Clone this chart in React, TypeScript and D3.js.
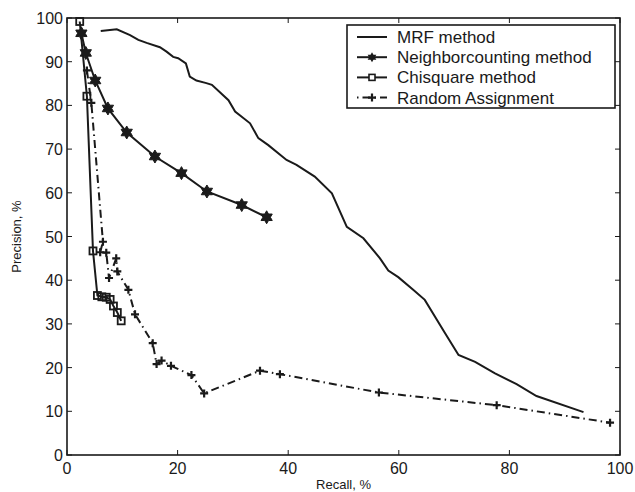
import React from "react";
import * as d3 from "d3";

const W = 635, H = 492;
const M = { left: 67, right: 15, top: 18, bottom: 37 };

// MRF method (line only)
const mrfX = [6.1, 9.0, 11.4, 12.9, 14.4, 16.8, 18.0, 19.2, 20.1, 21.5, 22.2, 23.4, 25.2, 26.2, 29.2, 30.4, 33.1, 34.6, 36.4, 39.7, 41.5, 44.8, 47.9, 50.6, 53.6, 56.6, 58.1, 59.9, 62.6, 64.7, 68.4, 70.8, 73.8, 77.4, 81.3, 84.9, 93.4];
const mrfY = [97.0, 97.4, 96.1, 95.0, 94.3, 93.3, 92.3, 91.1, 90.8, 89.6, 86.6, 85.7, 85.1, 84.7, 81.2, 78.6, 75.9, 72.5, 70.9, 67.5, 66.4, 63.7, 59.9, 52.2, 49.6, 45.0, 42.2, 40.7, 37.8, 35.5, 27.8, 22.9, 21.3, 18.7, 16.2, 13.5, 9.8];

// Neighborcounting method (hexagram markers)
const nbX = [2.6, 3.4, 5.1, 7.4, 10.8, 15.9, 20.7, 25.3, 31.6, 36.1];
const nbY = [96.5, 92.0, 85.7, 79.3, 73.8, 68.3, 64.5, 60.3, 57.2, 54.4];

// Chisquare method (square markers)
const chX = [2.3, 3.6, 4.7, 5.5, 6.3, 7.1, 7.8, 8.4, 9.1, 9.8];
const chY = [99.2, 82.1, 46.7, 36.5, 36.2, 36.1, 35.6, 34.1, 32.6, 30.7];

// Random Assignment (plus markers, dash-dot)
const rnX = [3.6, 4.4, 6.5, 6.0, 7.1, 7.6, 8.9, 9.1, 11.1, 12.3, 15.5, 16.2, 17.1, 18.8, 22.5, 24.8, 34.9, 38.5, 56.4, 77.7, 98.2];
const rnY = [88.0, 80.6, 48.8, 46.4, 46.3, 40.5, 45.0, 42.0, 37.8, 32.2, 25.6, 20.8, 21.6, 20.4, 18.3, 14.1, 19.3, 18.5, 14.3, 11.4, 7.4];

const xTicks = [0, 20, 40, 60, 80, 100];
const yTicks = [0, 10, 20, 30, 40, 50, 60, 70, 80, 90, 100];
const legendLabels = ["MRF method", "Neighborcounting method", "Chisquare method", "Random Assignment"];

const FONT = "'Liberation Sans', Arial, Helvetica, sans-serif";
const INK = "#1a1a1a";

function hexagram(r: number) {
  const pts: string[] = [];
  for (let i = 0; i < 12; i++) {
    const a = (Math.PI / 6) * i - Math.PI / 2;
    const rr = i % 2 === 0 ? r : r / Math.sqrt(3);
    pts.push(`${(rr * Math.cos(a)).toFixed(2)},${(rr * Math.sin(a)).toFixed(2)}`);
  }
  return "M" + pts.join("L") + "Z";
}

export default function App() {
  const x = d3.scaleLinear().domain([0, 100]).range([M.left, W - M.right]);
  const y = d3.scaleLinear().domain([0, 100]).range([H - M.bottom, M.top]);
  const line = (xs: number[], ys: number[]) =>
    d3.line<number>().x((_, i) => x(xs[i])).y((_, i) => y(ys[i]))(xs) || "";

  const x0 = x(0), x1 = x(100), y0 = y(0), y1 = y(100);
  const tl = 5;
  const star = hexagram(6.5);
  const plus = (s: number) => `M${-s},0H${s}M0,${-s}V${s}`;

  const lg = { x: 347, y: 25, w: 268, h: 83 };
  const rowY = (i: number) => lg.y + 12 + i * 20.2;

  return (
    <svg width={W} height={H} style={{ position: "absolute", left: 0, top: 0, background: "#fff" }}>
      <rect x={0} y={0} width={W} height={H} fill="#fff" />
      {/* ticks */}
      <g stroke={INK} strokeWidth={1}>
        {xTicks.map((t) => (
          <g key={"xt" + t}>
            <line x1={x(t)} x2={x(t)} y1={y0} y2={y0 - tl} />
            <line x1={x(t)} x2={x(t)} y1={y1} y2={y1 + tl} />
          </g>
        ))}
        {yTicks.map((t) => (
          <g key={"yt" + t}>
            <line x1={x0} x2={x0 + tl} y1={y(t)} y2={y(t)} />
            <line x1={x1} x2={x1 - tl} y1={y(t)} y2={y(t)} />
          </g>
        ))}
      </g>
      <rect x={x0} y={y1} width={x1 - x0} height={y0 - y1} fill="none" stroke={INK} strokeWidth={1.6} />
      {/* tick labels */}
      <g fontFamily={FONT} fontSize={16} fill={INK}>
        {xTicks.map((t) => (
          <text key={"xl" + t} x={x(t)} y={y0 + 19} textAnchor="middle">{t}</text>
        ))}
        {yTicks.map((t) => (
          <text key={"yl" + t} x={x0 - 4} y={y(t) + 6} textAnchor="end">{t}</text>
        ))}
      </g>
      <text x={(x0 + x1) / 2} y={489} textAnchor="middle" fontFamily={FONT} fontSize={13} fill={INK}>Recall, %</text>
      <text transform={`translate(21,${(y0 + y1) / 2}) rotate(-90)`} textAnchor="middle" fontFamily={FONT} fontSize={13} fill={INK}>Precision, %</text>

      {/* series */}
      <path d={line(mrfX, mrfY)} fill="none" stroke={INK} strokeWidth={2} />
      <path d={line(rnX, rnY)} fill="none" stroke={INK} strokeWidth={2} strokeDasharray="8,4,1.5,4" />
      <path d={line(chX, chY)} fill="none" stroke={INK} strokeWidth={2} />
      <path d={line(nbX, nbY)} fill="none" stroke={INK} strokeWidth={2} />
      {rnX.map((v, i) => (
        <path key={"rp" + i} d={plus(4)} transform={`translate(${x(v)},${y(rnY[i])})`} stroke={INK} strokeWidth={2.2} />
      ))}
      {chX.map((v, i) => (
        <rect key={"cs" + i} x={x(v) - 3.5} y={y(chY[i]) - 3.5} width={7} height={7} fill="none" stroke={INK} strokeWidth={1.8} />
      ))}
      {nbX.map((v, i) => (
        <path key={"ns" + i} d={star} transform={`translate(${x(v)},${y(nbY[i])})`} fill={INK} stroke={INK} strokeWidth={1} />
      ))}

      {/* legend */}
      <rect x={lg.x} y={lg.y} width={lg.w} height={lg.h} fill="#fff" stroke={INK} strokeWidth={1.6} />
      <g>
        <line x1={357} x2={387} y1={rowY(0)} y2={rowY(0)} stroke={INK} strokeWidth={2} />
        <line x1={357} x2={387} y1={rowY(1)} y2={rowY(1)} stroke={INK} strokeWidth={2} />
        <path d={hexagram(5)} transform={`translate(372,${rowY(1)})`} fill={INK} />
        <line x1={357} x2={387} y1={rowY(2)} y2={rowY(2)} stroke={INK} strokeWidth={2} />
        <rect x={369} y={rowY(2) - 3} width={6} height={6} fill="#fff" stroke={INK} strokeWidth={1.6} />
        <line x1={357} x2={387} y1={rowY(3)} y2={rowY(3)} stroke={INK} strokeWidth={2} strokeDasharray="1.5,4,8,4" />
        <path d={plus(4)} transform={`translate(372,${rowY(3)})`} stroke={INK} strokeWidth={2.2} />
      </g>
      <g fontFamily={FONT} fontSize={17} fill={INK}>
        {legendLabels.map((l, i) => (
          <text key={l} x={397} y={rowY(i) + 6}>{l}</text>
        ))}
      </g>
    </svg>
  );
}
